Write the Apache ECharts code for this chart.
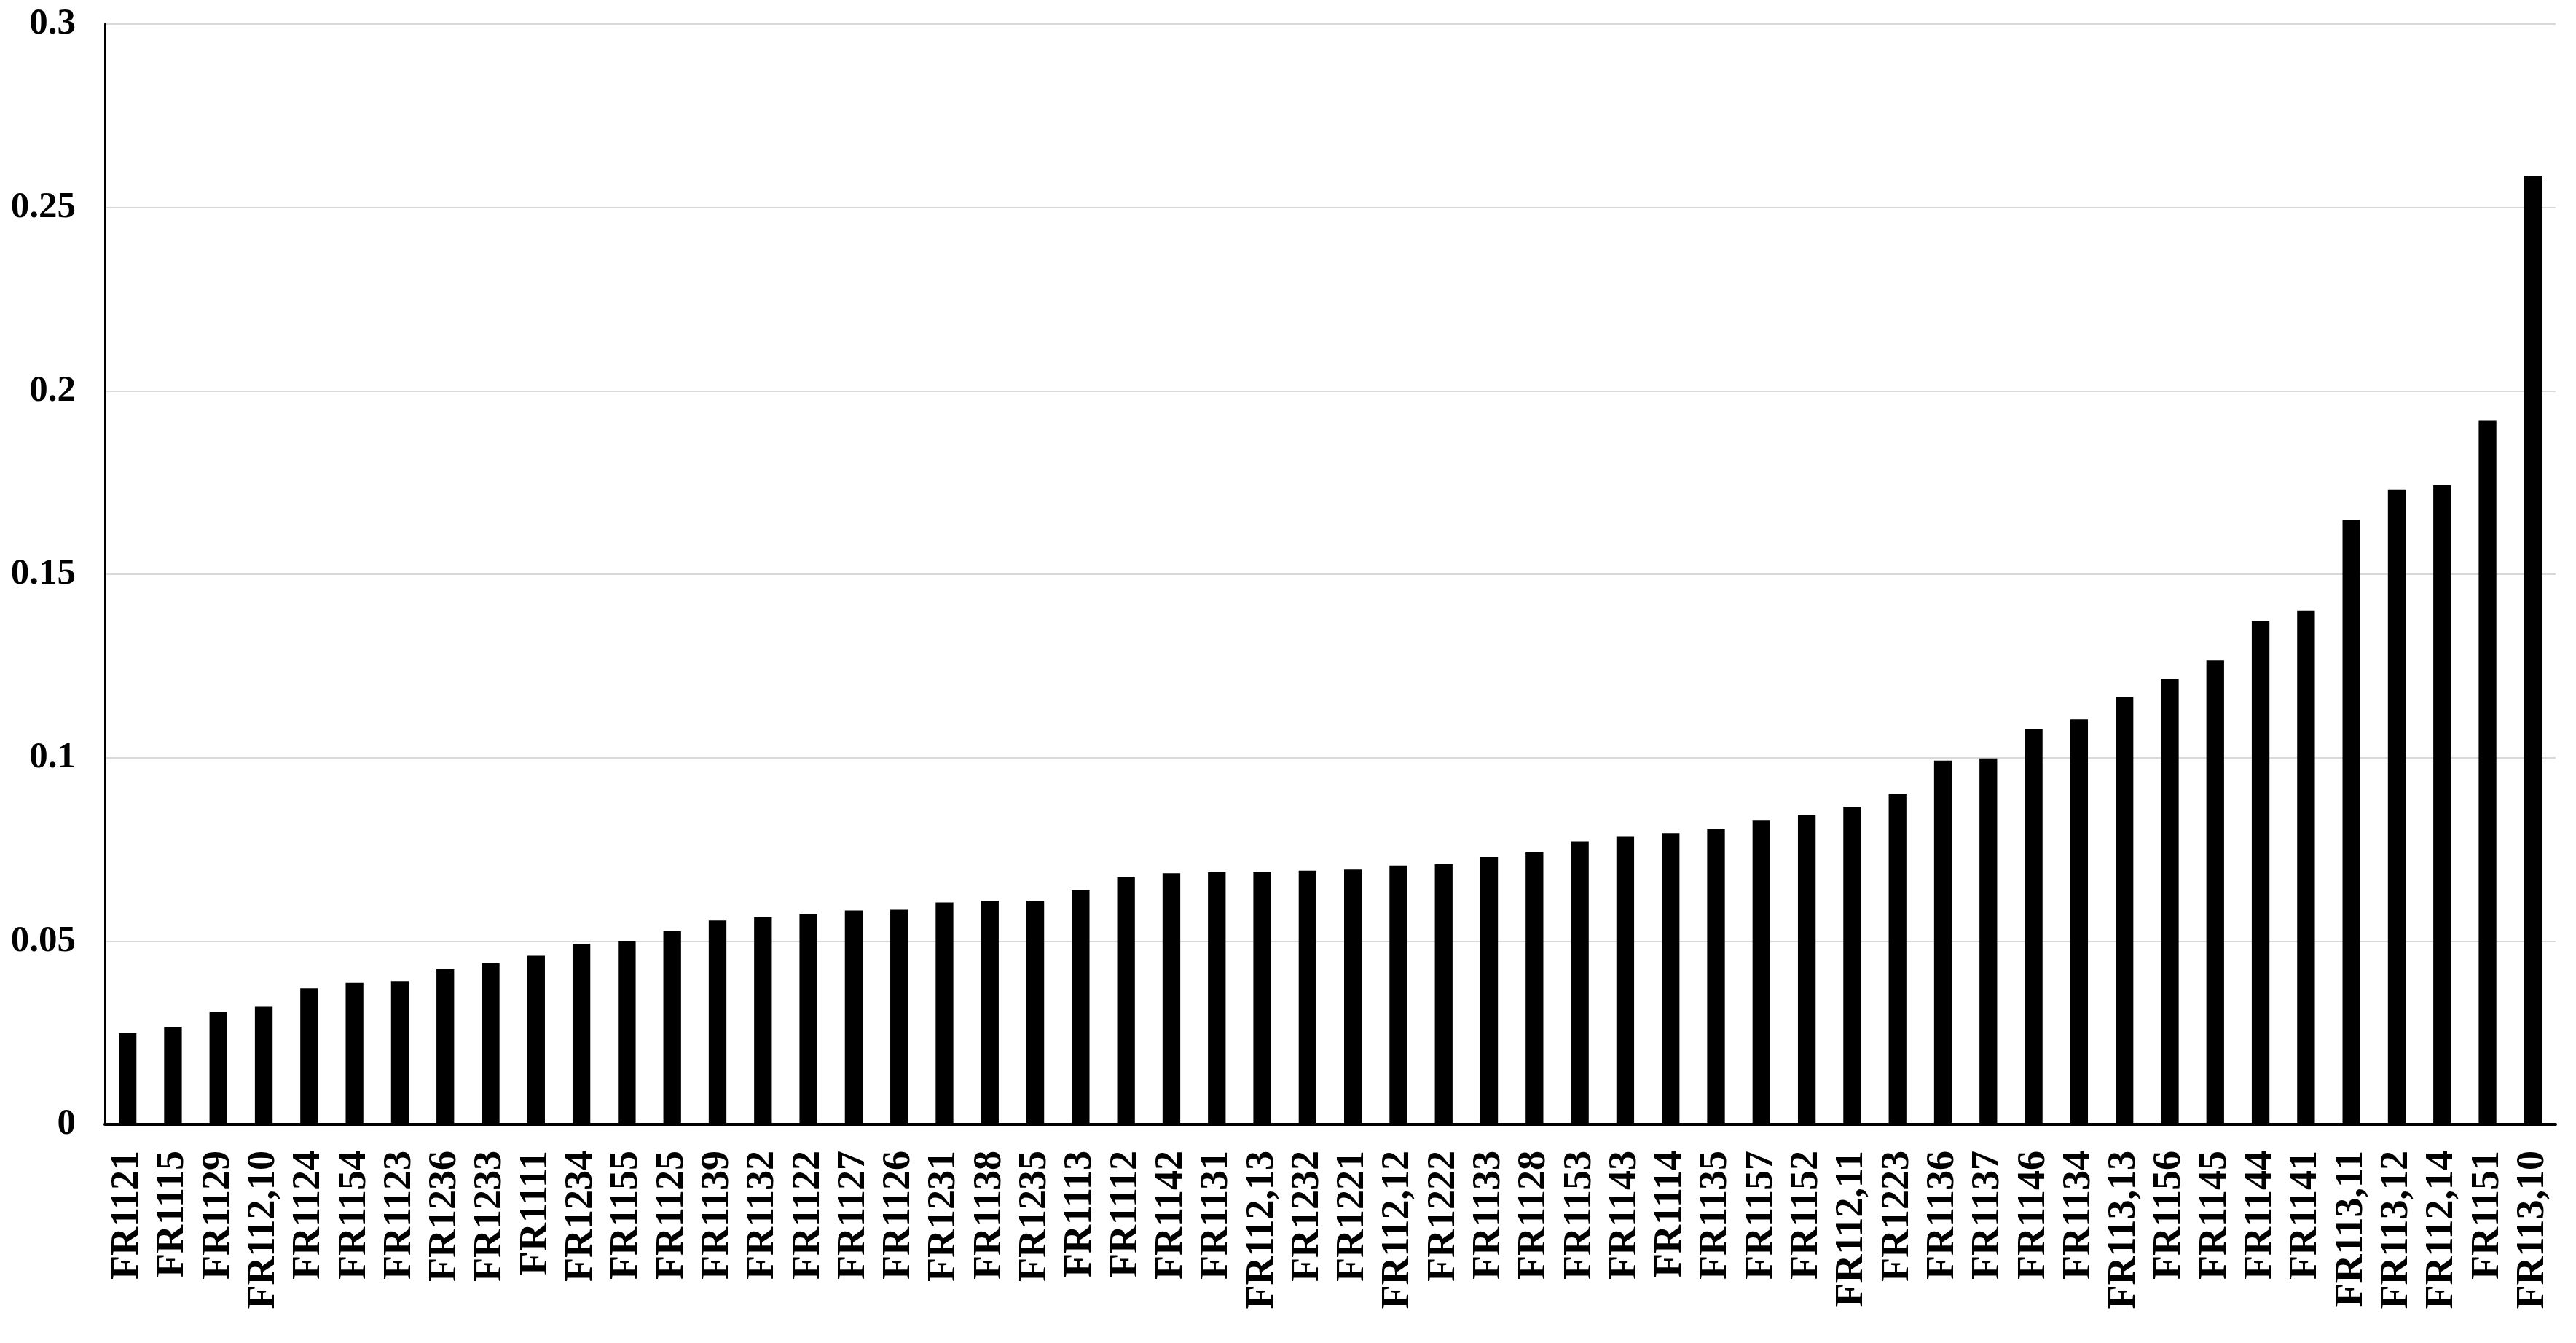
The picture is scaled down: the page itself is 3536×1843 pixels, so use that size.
<!DOCTYPE html>
<html>
<head>
<meta charset="utf-8">
<script src="https://cdn.jsdelivr.net/npm/echarts@6/dist/echarts.min.js"></script>
<style>
  html, body { margin: 0; padding: 0; background: #fff; }
  #chart { width: 3536px; height: 1843px; }
</style>
</head>
<body>
<div id="chart"></div>
<script>
// sample names, sorted by value
const categories = [
  'FR1121', 'FR1115', 'FR1129', 'FR112,10', 'FR1124', 'FR1154', 'FR1123', 'FR1236', 'FR1233', 'FR1111',
  'FR1234', 'FR1155', 'FR1125', 'FR1139', 'FR1132', 'FR1122', 'FR1127', 'FR1126', 'FR1231', 'FR1138',
  'FR1235', 'FR1113', 'FR1112', 'FR1142', 'FR1131', 'FR112,13', 'FR1232', 'FR1221', 'FR112,12', 'FR1222',
  'FR1133', 'FR1128', 'FR1153', 'FR1143', 'FR1114', 'FR1135', 'FR1157', 'FR1152', 'FR112,11', 'FR1223',
  'FR1136', 'FR1137', 'FR1146', 'FR1134', 'FR113,13', 'FR1156', 'FR1145', 'FR1144', 'FR1141', 'FR113,11',
  'FR113,12', 'FR112,14', 'FR1151', 'FR113,10'
]

const values = [
  0.0249, 0.0266, 0.0306, 0.0321, 0.0371, 0.0386, 0.0391, 0.0423, 0.0439, 0.0460,
  0.0492, 0.0499, 0.0527, 0.0556, 0.0564, 0.0574, 0.0583, 0.0585, 0.0605, 0.0610,
  0.0610, 0.0638, 0.0674, 0.0685, 0.0688, 0.0688, 0.0692, 0.0695, 0.0706, 0.0710,
  0.0729, 0.0743, 0.0772, 0.0786, 0.0794, 0.0806, 0.0830, 0.0843, 0.0866, 0.0902,
  0.0992, 0.0998, 0.1079, 0.1104, 0.1165, 0.1214, 0.1265, 0.1373, 0.1401, 0.1648,
  0.1731, 0.1743, 0.1918, 0.2587
]

const yTicks = [0, 0.05, 0.1, 0.15, 0.2, 0.25, 0.3]

const font = 'Liberation Serif'

const myChart = echarts.init(document.getElementById('chart'))

const option = {
    animation: false,
    backgroundColor: '#fff',
    grid: {
        top: 33,
        left: 144,
        right: 28,
        bottom: 300,
        containLabel: false
    },
    xAxis: {
        type: 'category',
        data: categories,
        axisTick: { show: false },
        axisLine: {
            lineStyle: { color: '#000', width: 4 }
        },
        axisLabel: {
            interval: 0,
            rotate: 90,
            margin: 36,
            color: '#000',
            fontFamily: font,
            fontWeight: 'bold',
            fontSize: 54
        }
    },
    yAxis: {
        type: 'value',
        min: yTicks[0],
        max: yTicks[yTicks.length - 1],
        interval: 0.05,
        axisLine: {
            show: true,
            lineStyle: { color: '#000', width: 3 }
        },
        axisTick: { show: false },
        splitLine: {
            lineStyle: { color: '#d9d9d9', width: 2 }
        },
        axisLabel: {
            margin: 40,
            color: '#000',
            fontFamily: font,
            fontWeight: 'bold',
            fontSize: 51,
            formatter: v => String(Math.round(v * 100) / 100)
        }
    },
    series: [
        {
            type: 'bar',
            data: values,
            barWidth: '39%',
            itemStyle: { color: '#000' }
        }
    ]
}

myChart.setOption(option)
</script>
</body>
</html>
